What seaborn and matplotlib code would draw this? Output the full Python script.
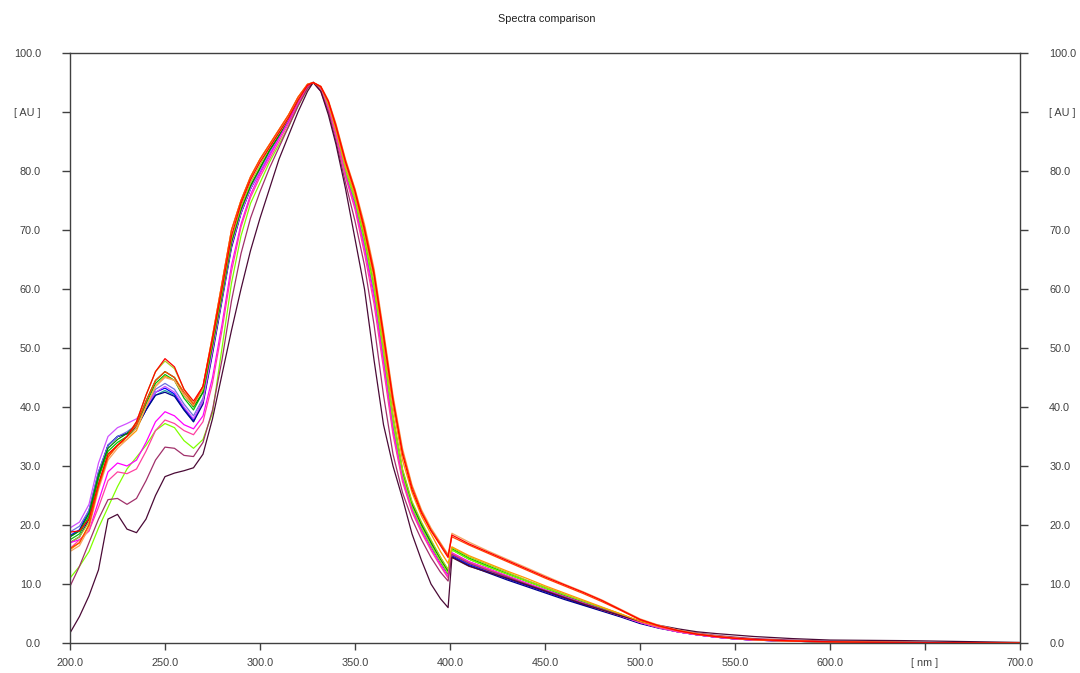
import numpy as np
import pandas as pd
import matplotlib
matplotlib.use("Agg")
import matplotlib.pyplot as plt
import seaborn as sns

# ---------------- data ----------------
wavelength = [200, 205, 210, 215, 220, 225, 230, 235, 240, 245, 250, 255, 260, 265, 270, 275,
              280, 285, 290, 295, 300, 305, 310, 315, 320, 325,
              328, 332, 336, 340, 345, 350, 355, 360, 365, 370, 375, 380, 385, 390, 395, 399,
              401, 410, 420, 430, 440, 450, 460, 470, 480, 490, 500, 510, 520, 530, 540, 550, 560,
              580, 600, 620, 640, 660, 680, 700]

spectra = {
    "s01": [18.8, 19.0, 21.0, 27.0, 32.0, 33.5, 35.0, 37.5, 42.0, 46.0, 48.2, 46.8, 43.0, 41.0, 43.5, 51.5,
            60.0, 69.0, 74.5, 78.5, 81.5, 84.0, 86.5, 89.0, 92.0, 94.5,
            95.0, 94.3, 91.8, 87.5, 81.5, 76.5, 70.0, 62.5, 52.0, 41.0, 32.0, 26.0, 22.0, 19.0, 16.5, 14.5,
            18.3, 16.8, 15.4, 14.0, 12.6, 11.2, 9.9, 8.6, 7.2, 5.6, 4.0, 2.9, 2.1, 1.5, 1.1, 0.8, 0.6,
            0.35, 0.2, 0.12, 0.08, 0.05, 0.03, 0.0],
    "s02": [16.0, 17.0, 20.0, 26.5, 31.5, 33.5, 35.0, 37.0, 41.0, 44.5, 46.0, 45.0, 42.5, 40.5, 43.5, 52.0,
            61.0, 70.0, 75.0, 79.0, 82.0, 84.5, 87.0, 89.5, 92.5, 94.7,
            95.0, 94.3, 91.8, 87.8, 81.8, 76.8, 70.5, 63.0, 52.5, 41.5, 32.5, 26.5, 22.3, 19.2, 16.8, 14.8,
            18.0, 16.6, 15.2, 13.8, 12.4, 11.0, 9.7, 8.4, 7.0, 5.5, 3.9, 2.9, 2.1, 1.5, 1.1, 0.8, 0.6,
            0.35, 0.2, 0.12, 0.08, 0.05, 0.03, 0.0],
    "s03": [15.5, 16.5, 19.5, 26.0, 31.0, 33.0, 34.5, 36.5, 40.0, 43.5, 45.0, 44.5, 42.0, 40.3, 43.5, 52.0,
            61.0, 70.0, 75.0, 79.0, 82.0, 84.5, 87.0, 89.5, 92.5, 94.7,
            95.0, 94.4, 92.0, 88.0, 82.0, 77.0, 71.0, 63.5, 53.0, 42.0, 33.0, 26.8, 22.6, 19.5, 17.0, 15.0,
            18.6, 17.1, 15.6, 14.2, 12.8, 11.4, 10.0, 8.7, 7.3, 5.7, 4.1, 3.0, 2.2, 1.6, 1.2, 0.85, 0.6,
            0.35, 0.2, 0.12, 0.08, 0.05, 0.03, 0.0],
    "s04": [15.8, 17.0, 20.0, 26.5, 31.5, 33.5, 34.5, 36.0, 40.0, 43.5, 45.2, 44.5, 42.0, 40.2, 43.5, 52.0,
            61.0, 70.0, 75.0, 79.0, 82.0, 84.5, 87.0, 89.5, 92.5, 94.7,
            95.0, 94.2, 91.5, 87.0, 81.0, 76.0, 69.5, 62.0, 51.0, 40.0, 31.0, 25.5, 21.5, 18.5, 15.5, 13.5,
            16.3, 14.8, 13.5, 12.2, 11.0, 9.7, 8.5, 7.3, 6.1, 4.9, 3.7, 2.8, 2.1, 1.5, 1.1, 0.8, 0.55,
            0.3, 0.2, 0.12, 0.08, 0.05, 0.03, 0.0],
    "s05": [17.0, 18.0, 20.5, 27.0, 32.0, 33.5, 35.0, 37.5, 42.0, 46.0, 47.8, 46.5, 43.0, 40.5, 43.0, 51.0,
            59.5, 68.5, 74.0, 78.0, 81.0, 84.0, 86.5, 89.0, 92.0, 94.5,
            95.0, 94.2, 91.3, 86.8, 80.5, 75.5, 69.0, 61.0, 50.0, 38.5, 29.5, 24.0, 20.5, 17.5, 14.5, 12.5,
            16.2, 14.6, 13.3, 12.0, 10.7, 9.5, 8.3, 7.1, 6.0, 4.9, 3.6, 2.8, 2.1, 1.5, 1.1, 0.8, 0.55,
            0.3, 0.2, 0.12, 0.08, 0.05, 0.03, 0.0],
    "s06": [11.0, 13.0, 15.5, 19.5, 23.0, 26.5, 29.5, 31.5, 33.5, 36.0, 37.2, 36.5, 34.3, 33.0, 34.5, 39.0,
            50.0, 61.0, 69.0, 74.5, 78.0, 81.5, 84.5, 87.5, 91.0, 94.0,
            95.0, 94.0, 91.0, 86.5, 80.0, 75.0, 68.0, 60.0, 49.0, 37.5, 28.5, 23.0, 19.5, 16.5, 13.8, 11.8,
            15.8, 14.2, 12.9, 11.7, 10.5, 9.3, 8.2, 7.1, 6.0, 4.9, 3.6, 2.7, 2.0, 1.5, 1.1, 0.8, 0.55,
            0.3, 0.2, 0.12, 0.08, 0.05, 0.03, 0.0],
    "s07": [17.0, 17.5, 19.0, 24.0, 29.0, 30.5, 30.0, 31.0, 34.0, 37.5, 39.2, 38.5, 37.0, 36.3, 38.5, 45.0,
            54.0, 64.0, 71.0, 76.0, 79.5, 82.5, 85.5, 88.5, 91.5, 94.3,
            95.0, 93.8, 90.6, 86.0, 79.3, 74.0, 66.8, 58.5, 47.5, 36.0, 27.8, 22.5, 19.0, 16.0, 13.3, 11.3,
            15.3, 13.8, 12.6, 11.4, 10.2, 9.0, 7.9, 6.8, 5.7, 4.6, 3.5, 2.6, 1.9, 1.4, 1.0, 0.7, 0.5,
            0.3, 0.2, 0.1, 0.08, 0.05, 0.03, 0.0],
    "s08": [16.0, 17.5, 19.0, 23.0, 27.5, 29.0, 28.7, 29.5, 32.5, 36.0, 37.8, 37.2, 36.0, 35.3, 37.5, 44.0,
            53.0, 63.0, 70.5, 75.5, 79.0, 82.0, 85.0, 88.0, 91.3, 94.2,
            95.0, 93.7, 90.5, 85.8, 79.0, 73.5, 66.0, 57.5, 46.5, 35.3, 27.3, 22.2, 18.7, 15.7, 13.0, 11.0,
            15.2, 13.7, 12.5, 11.3, 10.1, 8.9, 7.8, 6.7, 5.6, 4.6, 3.5, 2.6, 1.9, 1.4, 1.0, 0.7, 0.5,
            0.3, 0.2, 0.1, 0.08, 0.05, 0.03, 0.0],
    "s09": [9.6, 13.0, 17.0, 21.0, 24.3, 24.5, 23.5, 24.5, 27.5, 31.0, 33.2, 33.0, 31.8, 31.6, 34.0, 39.5,
            48.0, 58.0, 66.0, 72.0, 76.5, 80.5, 84.0, 87.5, 91.0, 94.0,
            95.0, 93.5, 90.0, 85.0, 78.0, 71.5, 64.0, 54.0, 42.0, 32.0, 25.5, 21.0, 17.5, 14.5, 12.0, 10.5,
            15.0, 13.5, 12.3, 11.2, 10.0, 8.9, 7.8, 6.7, 5.7, 4.7, 3.7, 2.9, 2.2, 1.7, 1.3, 1.0, 0.75,
            0.5, 0.3, 0.2, 0.12, 0.08, 0.05, 0.0],
    "s10": [1.7, 4.5, 8.0, 12.4, 21.0, 21.8, 19.3, 18.7, 21.0, 25.0, 28.2, 28.8, 29.2, 29.7, 32.0, 38.0,
            45.5, 53.0, 60.0, 66.5, 72.0, 77.0, 82.0, 86.0, 90.0, 93.5,
            95.0, 93.5, 89.5, 84.5, 77.0, 68.5, 60.0, 48.0, 37.0, 30.0, 24.5, 18.5, 14.0, 10.0, 7.5, 6.0,
            14.5, 13.0, 12.0, 11.0, 9.9, 8.8, 7.7, 6.6, 5.6, 4.6, 3.7, 3.0, 2.4, 1.9, 1.6, 1.35, 1.1,
            0.75, 0.5, 0.45, 0.4, 0.3, 0.2, 0.1],
    "s11": [17.5, 18.5, 21.5, 28.0, 32.5, 34.0, 35.0, 36.5, 40.5, 44.0, 45.5, 44.5, 41.5, 39.5, 42.5, 50.5,
            59.0, 68.0, 73.5, 77.5, 80.5, 83.5, 86.0, 88.5, 91.5, 94.3,
            95.0, 94.1, 91.2, 86.7, 80.3, 75.3, 68.5, 60.7, 49.8, 38.3, 29.3, 23.8, 20.3, 17.3, 14.5, 12.3,
            16.0, 14.4, 13.1, 11.8, 10.6, 9.4, 8.2, 7.0, 5.9, 4.8, 3.6, 2.7, 2.0, 1.5, 1.1, 0.8, 0.55,
            0.3, 0.2, 0.12, 0.08, 0.05, 0.03, 0.0],
    "s12": [18.0, 19.0, 22.0, 28.5, 33.0, 34.5, 35.5, 37.0, 41.0, 44.5, 46.0, 45.0, 42.0, 40.0, 42.5, 50.5,
            59.0, 68.0, 73.5, 77.5, 80.5, 83.5, 86.0, 88.5, 91.5, 94.3,
            95.0, 94.0, 91.1, 86.6, 80.2, 75.2, 68.3, 60.5, 49.5, 38.0, 29.0, 23.5, 20.0, 17.0, 14.2, 12.1,
            15.8, 14.2, 12.9, 11.7, 10.5, 9.3, 8.1, 7.0, 5.9, 4.8, 3.6, 2.7, 2.0, 1.5, 1.1, 0.8, 0.55,
            0.3, 0.2, 0.12, 0.08, 0.05, 0.03, 0.0],
    "s13": [18.0, 19.0, 22.0, 28.5, 33.5, 35.0, 35.5, 36.5, 39.5, 42.0, 42.8, 42.0, 39.5, 37.5, 41.0, 49.5,
            58.5, 67.5, 73.0, 77.0, 80.0, 83.0, 85.8, 88.5, 91.5, 94.3,
            95.0, 94.0, 90.9, 86.4, 79.9, 74.9, 67.9, 59.9, 48.9, 37.4, 28.6, 23.1, 19.6, 16.6, 13.9, 11.9,
            14.9, 13.4, 12.2, 11.0, 9.9, 8.8, 7.7, 6.6, 5.6, 4.6, 3.5, 2.6, 1.9, 1.4, 1.0, 0.7, 0.5,
            0.3, 0.2, 0.12, 0.08, 0.05, 0.03, 0.0],
    "s14": [18.2, 19.2, 22.5, 29.0, 33.5, 35.0, 35.5, 36.5, 39.5, 42.5, 43.2, 42.2, 39.8, 37.8, 41.0, 49.5,
            58.5, 67.5, 73.0, 77.0, 80.0, 83.0, 85.8, 88.5, 91.5, 94.3,
            95.0, 94.0, 90.8, 86.3, 79.8, 74.8, 67.8, 59.8, 48.8, 37.3, 28.5, 23.0, 19.5, 16.5, 13.8, 11.8,
            14.8, 13.3, 12.1, 10.9, 9.8, 8.7, 7.6, 6.5, 5.5, 4.5, 3.4, 2.6, 1.9, 1.4, 1.0, 0.7, 0.5,
            0.3, 0.2, 0.12, 0.08, 0.05, 0.03, 0.0],
    "s15": [17.0, 18.0, 21.0, 28.0, 33.5, 35.0, 35.5, 36.5, 39.5, 42.0, 42.5, 41.8, 39.5, 37.5, 40.5, 49.0,
            58.0, 67.0, 72.8, 77.0, 80.0, 83.0, 85.8, 88.5, 91.5, 94.3,
            95.0, 94.0, 90.8, 86.2, 79.7, 74.6, 67.6, 59.6, 48.6, 37.1, 28.4, 22.9, 19.4, 16.4, 13.7, 11.7,
            14.6, 13.1, 11.9, 10.7, 9.6, 8.5, 7.4, 6.4, 5.4, 4.4, 3.3, 2.5, 1.9, 1.4, 1.0, 0.7, 0.5,
            0.3, 0.2, 0.12, 0.08, 0.05, 0.03, 0.0],
    "s16": [18.8, 19.8, 22.5, 29.0, 33.5, 35.0, 35.8, 37.0, 40.0, 43.0, 44.0, 43.0, 40.5, 38.5, 41.5, 50.0,
            58.5, 67.5, 73.0, 77.0, 80.0, 83.0, 85.8, 88.5, 91.5, 94.3,
            95.0, 94.0, 90.9, 86.4, 79.9, 74.9, 67.9, 59.9, 48.9, 37.4, 28.6, 23.1, 19.6, 16.6, 13.9, 11.9,
            15.0, 13.5, 12.3, 11.1, 10.0, 8.9, 7.8, 6.7, 5.6, 4.6, 3.5, 2.6, 1.9, 1.4, 1.0, 0.7, 0.5,
            0.3, 0.2, 0.12, 0.08, 0.05, 0.03, 0.0],
    "s17": [19.5, 20.5, 23.5, 30.5, 35.0, 36.5, 37.2, 38.0, 40.0, 42.5, 43.5, 42.5, 40.0, 38.0, 41.0, 49.5,
            58.5, 67.5, 73.0, 77.0, 80.0, 83.0, 85.8, 88.5, 91.5, 94.3,
            95.0, 94.0, 90.9, 86.4, 79.9, 74.9, 67.9, 59.9, 48.9, 37.4, 28.6, 23.1, 19.6, 16.6, 13.9, 11.9,
            15.2, 13.7, 12.5, 11.3, 10.1, 9.0, 7.9, 6.8, 5.7, 4.6, 3.5, 2.6, 1.9, 1.4, 1.0, 0.7, 0.5,
            0.3, 0.2, 0.12, 0.08, 0.05, 0.03, 0.0],
}

colors = {
    "s01": "#ff0000", "s02": "#ff4500", "s03": "#f4a460", "s04": "#ff9900",
    "s05": "#a8d020", "s06": "#80ff00", "s07": "#ff00ff", "s08": "#ff40a0",
    "s09": "#a0306a", "s10": "#4a0a36", "s11": "#00c000", "s12": "#008a00",
    "s13": "#20a0a0", "s14": "#0000ff", "s15": "#00008b", "s16": "#7070e0",
    "s17": "#d050ff",
}

x_ticks = [200, 250, 300, 350, 400, 450, 500, 550, 600, 650, 700]
x_tick_labels = ["200.0", "250.0", "300.0", "350.0", "400.0", "450.0", "500.0", "550.0", "600.0", "[ nm ]", "700.0"]
y_ticks = [0, 10, 20, 30, 40, 50, 60, 70, 80, 90, 100]
y_tick_labels = ["0.0", "10.0", "20.0", "30.0", "40.0", "50.0", "60.0", "70.0", "80.0", "[ AU ]", "100.0"]
title = "Spectra comparison"

# ---------------- plot ----------------
rows = []
for name, vals in spectra.items():
    for w, v in zip(wavelength, vals):
        rows.append((name, w, v))
df = pd.DataFrame(rows, columns=["sample", "nm", "AU"])

sns.set_style("white")
plt.rcParams["font.family"] = ["Liberation Sans", "DejaVu Sans"]

fig = plt.figure(figsize=(10.8, 6.73), dpi=100)
ax = fig.add_axes([70 / 1080, 1 - 643 / 673, 950 / 1080, 590 / 673])

# draw order: cluster first, outliers after, reds on top
order = ["s13", "s14", "s15", "s16", "s17", "s11", "s12", "s06", "s05", "s07", "s08",
         "s09", "s10", "s04", "s03", "s02", "s01"]
for name in order:
    sub = df[df["sample"] == name]
    sns.lineplot(data=sub, x="nm", y="AU", color=colors[name], linewidth=0.9,
                 ax=ax, estimator=None, sort=False, legend=False)

ax.set_xlim(200, 700)
ax.set_ylim(0, 100)
ax.set_xlabel("")
ax.set_ylabel("")
ax.set_xticks(x_ticks)
ax.set_xticklabels(x_tick_labels)
ax.set_yticks(y_ticks)
ax.set_yticklabels(y_tick_labels)

spine_col = "#404040"
for s in ax.spines.values():
    s.set_visible(True)
    s.set_color(spine_col)
    s.set_linewidth(1.0)

ax.tick_params(axis="y", which="both", direction="out", length=6, width=1.0, color=spine_col,
               left=True, right=True, labelleft=True, labelright=True, pad=15,
               labelsize=7.8, labelcolor="#404040")
ax.tick_params(axis="x", direction="out", length=5, width=1.0, color=spine_col,
               bottom=True, top=False, pad=6, labelsize=7.8, labelcolor="#404040")
ax.grid(False)

fig.text(547 / 1080, 1 - 19 / 673, title, ha="center", va="center", fontsize=7.8, color="#202020")

fig.savefig("out.png", dpi=100)
